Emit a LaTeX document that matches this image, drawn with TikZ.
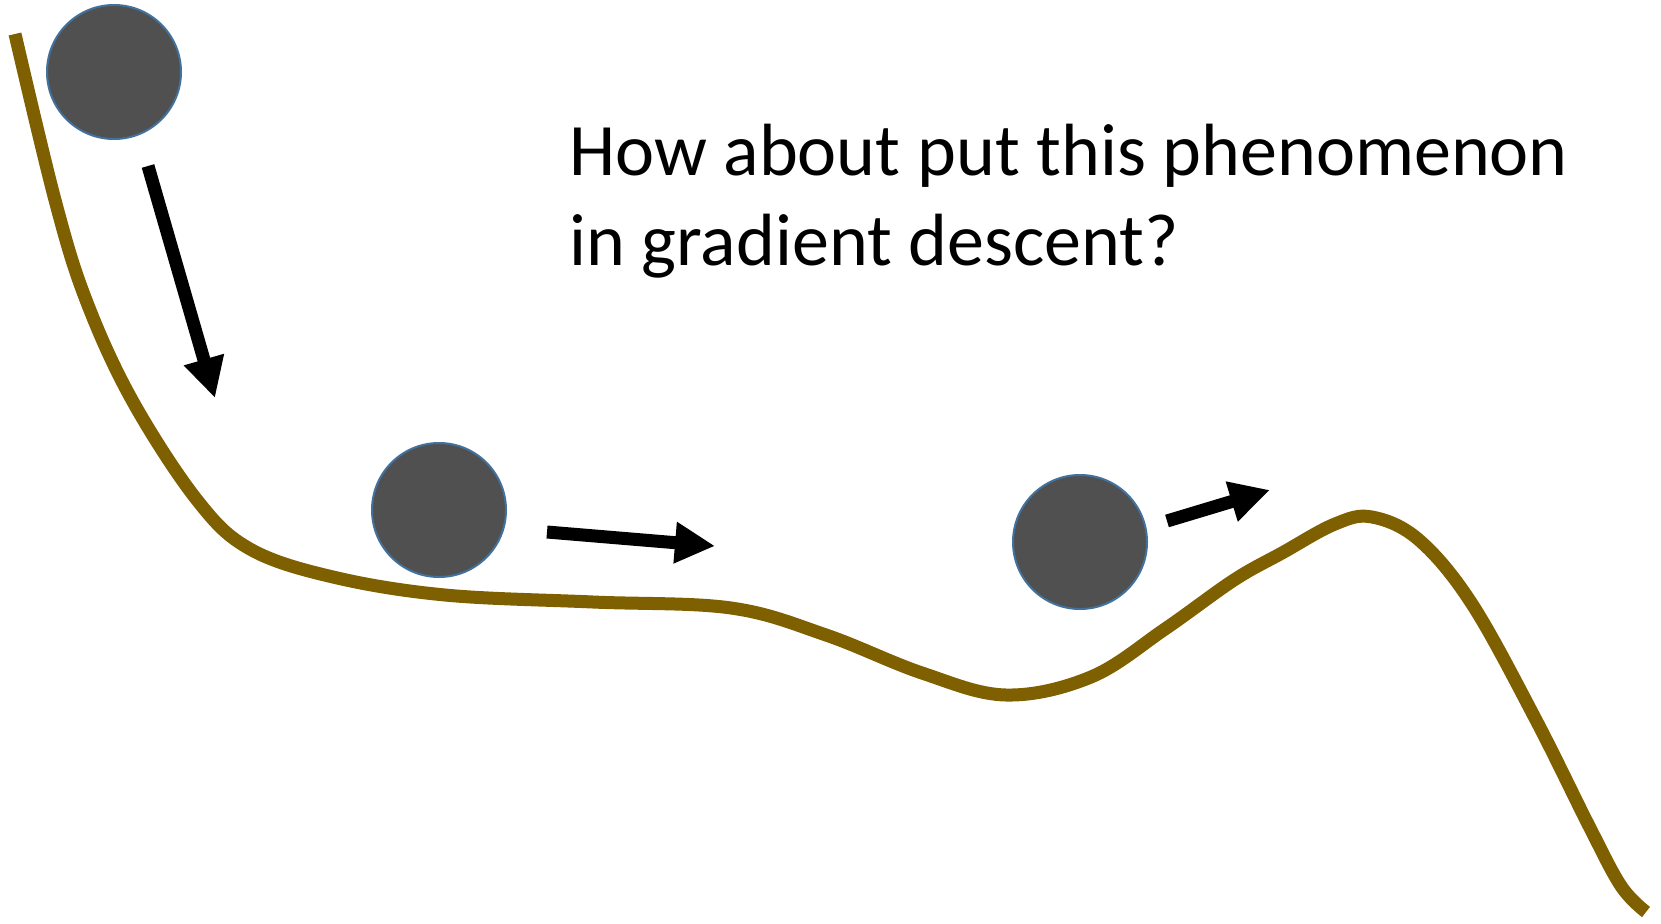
\documentclass[tikz,border=0pt]{standalone}
\usepackage{fontspec}
\setmainfont{Carlito}
\definecolor{hillbrown}{RGB}{127,96,0}
\definecolor{ballgray}{RGB}{80,80,80}
\definecolor{ballrim}{RGB}{65,113,156}
\usetikzlibrary{arrows.meta}
\tikzset{
  ball/.style={circle,draw=ballrim,line width=2pt,fill=ballgray,minimum size=134pt,inner sep=0pt},
  push/.style={line width=13pt,-{Triangle[length=40pt,width=39pt]}}
}

\begin{document}
\begin{tikzpicture}[x=1pt,y=-1pt]
  \useasboundingbox (0,0) rectangle (1661,923);
  %% the landscape
  \draw[hillbrown,line width=13pt,smooth,tension=0.6] plot coordinates {
    (15,34) (55,200) (86,300) (132,400) (197,500) (250,549) (333,577)
    (445,595) (593,602) (731,608) (826,635) (922,673) (1006,695)
    (1091,677) (1165,629) (1234,580) (1282,553) (1335,524) (1372,517)
    (1419,540) (1472,604) (1536,720) (1589,826) (1621,886) (1646,912)};
  %% balls
  \node[ball] (ballA) at (114,72) {};
  \node[ball] (ballB) at (439,510) {};
  \node[ball] (ballC) at (1080,542) {};
  %% arrows
  \coordinate (a1s) at (148,166);
  \coordinate (a1e) at (215,398);
  \coordinate (a2s) at (547,532);
  \coordinate (a2e) at (715,546);
  \coordinate (a3s) at (1167,521);
  \coordinate (a3e) at (1270,490);
  \draw[push] (a1s) -- (a1e);
  \draw[push] (a2s) -- (a2e);
  \draw[push] (a3s) -- (a3e);
  %% question
  \node[anchor=base west,inner sep=0pt,align=left,font=\fontsize{74}{90}\selectfont] (question) at (569,265)
    {How about put this phenomenon\\in gradient descent?};
\end{tikzpicture}
\end{document}
